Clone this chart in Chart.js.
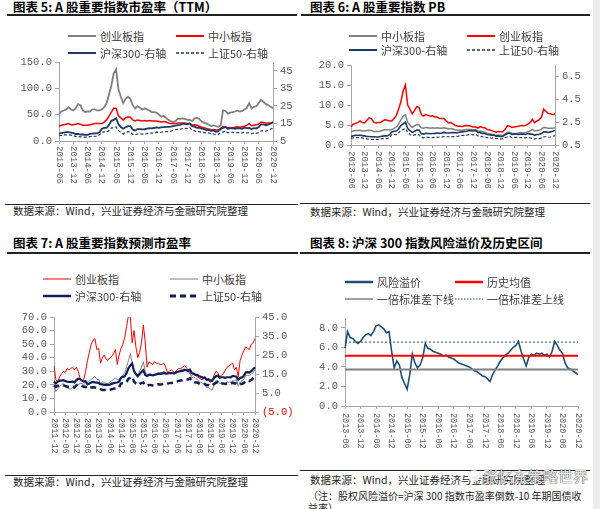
<!DOCTYPE html>
<html>
<head>
<meta charset="utf-8">
<script src="https://cdn.jsdelivr.net/npm/chart.js@4.4.0/dist/chart.umd.min.js"></script>
<style>
  body { margin: 0; background: #fff; }
  #page { position: relative; width: 600px; height: 509px; overflow: hidden; font-family: "Noto Sans CJK SC", sans-serif; color: #262626; }
  .abs { position: absolute; white-space: nowrap; }
  .title { font-size: 12.5px; font-weight: bold; color: #000; line-height: 14px; }
  .src { font-size: 10.5px; color: #262626; line-height: 14px; }
  .note { font-size: 10px; color: #262626; line-height: 14px; }
  .rule { position: absolute; background: #222; }
  .leg { font-size: 11px; color: #404040; line-height: 14px; }
  .sw { line-height: 0; }
  .sw svg { display: block; }
  canvas { position: absolute; }
</style>
</head>
<body>
<div id="page">
  <div class="abs" style="left:593px;top:0;width:7px;height:509px;background:#ececec"></div>

  <div class="abs title" style="left:13px;top:0px">图表 5: A 股重要指数市盈率（TTM）</div>
  <div class="abs title" style="left:310px;top:0px">图表 6: A 股重要指数 PB</div>
  <div class="abs title" style="left:13px;top:236px">图表 7: A 股重要指数预测市盈率</div>
  <div class="abs title" style="left:310px;top:236px">图表 8: 沪深 300 指数风险溢价及历史区间</div>

  <div class="rule" style="left:7px;top:14px;width:290px;height:1.5px"></div>
  <div class="rule" style="left:301px;top:14px;width:289px;height:1.5px"></div>
  <div class="rule" style="left:5px;top:204px;width:293px;height:1px"></div>
  <div class="rule" style="left:300px;top:203px;width:290px;height:1px"></div>
  <div class="rule" style="left:7px;top:252px;width:291px;height:1.5px"></div>
  <div class="rule" style="left:300px;top:252px;width:290px;height:1.5px"></div>
  <div class="rule" style="left:5px;top:475px;width:293px;height:1px"></div>
  <div class="rule" style="left:300px;top:470px;width:290px;height:1px"></div>

  <div class="abs src" style="left:13px;top:204px">数据来源：Wind，兴业证券经济与金融研究院整理</div>
  <div class="abs src" style="left:310px;top:205px">数据来源：Wind，兴业证券经济与金融研究院整理</div>
  <div class="abs src" style="left:13px;top:475px">数据来源：Wind，兴业证券经济与金融研究院整理</div>
  <div class="abs src" style="left:310px;top:473px">数据来源：Wind，兴业证券经济与金融研究院整理</div>
  <div class="abs note" style="left:308px;top:489px">（注：股权风险溢价=沪深 300 指数市盈率倒数-10 年期国债收</div>
  <div class="abs note" style="left:308px;top:501px">益率）</div>

  <canvas id="c5" width="300" height="155" style="left:0;top:50px"></canvas>
  <canvas id="c6" width="300" height="155" style="left:300px;top:50px"></canvas>
  <canvas id="c7" width="300" height="170" style="left:0;top:300px"></canvas>
  <canvas id="c8" width="300" height="165" style="left:300px;top:300px"></canvas>

  <div class="abs" style="left:468px;top:470px;width:12px;height:12px;border-radius:6px;background:rgba(255,255,255,0.85);box-shadow:0 0 1px #555"></div>
  <div class="abs" style="left:483px;top:467px;font-size:15px;line-height:18px;color:rgba(255,255,255,0.9);text-shadow:0 0 1px #444,0 0 1px #444">张忆东策略世界</div>
</div>
<script>
// ---- data ----
function monthLabels(year, month, count) {
    const out = [];
    for (let i = 0; i < count; i++) {
        const m = month - 1 + i;
        out.push((year + Math.floor(m / 12)) + '-' + String(m % 12 + 1).padStart(2, '0'));
    }
    return out;
}
const months13 = monthLabels(2013, 6, 91);   // 2013-06 .. 2020-12
const months11 = monthLabels(2011, 12, 109); // 2011-12 .. 2020-12

// chart 5: PE (TTM)
const chinextPe = [52, 56, 58, 60, 64, 60, 58,
    62, 70, 68, 58, 55, 56, 56, 60, 60, 58, 58, 60,
    64, 72, 88, 105, 128, 136, 98, 84, 72, 80, 84, 80,
    68, 62, 66, 63, 60, 62, 60, 58, 55, 55, 54, 50,
    46, 48, 44, 40, 38, 36, 38, 42, 42, 43, 42, 40,
    40, 38, 43, 44, 42, 37, 35, 33, 31, 28, 30, 28,
    27, 30, 58, 57, 52, 54, 55, 56, 58, 56, 57, 60,
    63, 72, 62, 65, 66, 72, 78, 74, 70, 68, 65, 62];
const smePe = [28, 30, 31, 32, 33, 31, 31,
    32, 33, 32, 30, 30, 30, 31, 32, 33, 33, 33, 33,
    36, 40, 47, 55, 62, 62, 48, 44, 40, 44, 46, 45,
    40, 38, 40, 39, 38, 39, 38, 39, 38, 38, 38, 37,
    36, 37, 36, 34, 33, 33, 33, 34, 34, 34, 34, 33,
    33, 30, 31, 30, 28, 26, 25, 24, 23, 21, 22, 21,
    21, 24, 27, 27, 25, 25, 25, 26, 27, 26, 27, 28,
    30, 33, 29, 30, 31, 32, 36, 35, 34, 34, 34, 35];
const hs300Pe = [9.2, 9.5, 9.8, 10, 10, 9.8, 9.5,
    9, 9, 8.7, 8.7, 8.5, 8.5, 9, 9.2, 9.3, 9.3, 10, 12,
    12.5, 12.5, 14, 16.5, 17, 18, 14.5, 13, 12, 12.8, 13.5, 13.5,
    11.5, 11, 11.8, 11.8, 11.6, 11.7, 12, 12.3, 12.2, 12.4, 12.8, 12.5,
    12.7, 12.9, 13, 13, 13.2, 13.5, 13.8, 14, 14.2, 14.7, 14.7, 14.5,
    15, 13.5, 13.2, 12.5, 12.6, 12, 11.8, 11.2, 11.2, 10.8, 11, 10.2,
    10.6, 11.8, 12.5, 13, 12, 12.2, 12.2, 12, 12.3, 12.2, 12, 12.6,
    12.3, 12.5, 11.8, 12.3, 12.2, 13, 14.5, 14.5, 14, 14.3, 15, 15.8];
const sz50Pe = [8, 8.2, 8.5, 8.5, 8.5, 8.3, 8,
    7.6, 7.5, 7.3, 7.3, 7.2, 7.2, 7.5, 7.6, 7.7, 7.7, 8.5, 10,
    10.2, 10, 11, 12.5, 12.5, 13, 11, 10, 9, 9.8, 10.3, 10.2,
    8.8, 8.6, 9, 9, 8.9, 9, 9.2, 9.5, 9.5, 9.6, 10, 9.8,
    10, 10.2, 10.3, 10.4, 10.6, 11, 11.4, 11.6, 11.7, 12, 12.2, 12,
    12.6, 11.2, 10.8, 10.3, 10.3, 10, 9.8, 9.5, 9.7, 9, 9, 8.6,
    8.8, 9.7, 10.2, 10.6, 9.7, 9.9, 9.9, 9.6, 9.8, 9.7, 9.6, 10,
    9.6, 9.7, 9.2, 9.5, 9.4, 9.8, 10.8, 10.8, 10.6, 11, 11.8, 12.2];
const peLeftTicks = [0, 50, 100, 150];
const peRightTicks = [5, 15, 25, 35, 45];

// chart 6: PB
const smePb = [3.3, 3.5, 3.6, 3.6, 3.7, 3.5, 3.5,
    3.6, 3.7, 3.6, 3.4, 3.4, 3.4, 3.5, 3.7, 3.8, 3.8, 3.8, 3.9,
    4.1, 4.5, 5.2, 6.2, 7.2, 7.6, 5.6, 5.0, 4.4, 4.8, 5.1, 5.0,
    4.3, 4.2, 4.4, 4.3, 4.2, 4.3, 4.2, 4.3, 4.2, 4.2, 4.3, 4.2,
    4.0, 4.1, 4.0, 3.8, 3.7, 3.7, 3.7, 3.8, 3.9, 3.9, 3.9, 3.8,
    3.8, 3.4, 3.5, 3.3, 3.2, 2.9, 2.8, 2.7, 2.6, 2.4, 2.5, 2.4,
    2.4, 2.8, 3.2, 3.1, 2.9, 2.9, 2.9, 3.0, 3.1, 3.0, 3.1, 3.3,
    3.5, 3.9, 3.5, 3.6, 3.7, 3.9, 4.4, 4.3, 4.2, 4.2, 4.2, 4.3];
const chinextPb = [4.6, 5.2, 5.4, 5.6, 6.0, 5.6, 5.5,
    6.2, 6.8, 6.6, 5.7, 5.5, 5.6, 5.6, 6.0, 6.3, 6.2, 6.0, 6.0,
    6.6, 7.4, 9.0, 10.8, 13.5, 15.0, 10.0, 9.0, 7.8, 8.6, 9.6, 9.4,
    7.6, 7.2, 7.6, 7.4, 7.2, 7.3, 7.0, 7.0, 6.6, 6.6, 6.6, 6.0,
    5.5, 5.6, 5.3, 4.9, 4.7, 4.7, 4.6, 4.8, 4.9, 4.8, 4.7, 4.5,
    4.5, 4.2, 4.6, 4.4, 4.3, 3.9, 3.8, 3.6, 3.4, 3.2, 3.4, 3.3,
    3.3, 3.9, 4.8, 4.7, 4.4, 4.5, 4.6, 4.7, 4.9, 4.8, 4.9, 5.2,
    5.6, 6.4, 5.6, 6.0, 6.3, 6.9, 9.0, 8.4, 7.9, 7.8, 7.6, 7.8];
const hs300Pb = [1.25, 1.3, 1.35, 1.35, 1.35, 1.32, 1.3,
    1.25, 1.25, 1.22, 1.22, 1.2, 1.2, 1.25, 1.28, 1.3, 1.3, 1.4, 1.65,
    1.7, 1.72, 1.9, 2.2, 2.35, 2.5, 1.95, 1.75, 1.6, 1.7, 1.8, 1.8,
    1.5, 1.45, 1.52, 1.5, 1.48, 1.5, 1.52, 1.55, 1.52, 1.55, 1.6, 1.55,
    1.55, 1.57, 1.58, 1.57, 1.58, 1.62, 1.65, 1.68, 1.7, 1.75, 1.76, 1.73,
    1.78, 1.6, 1.58, 1.5, 1.5, 1.42, 1.4, 1.35, 1.35, 1.28, 1.3, 1.25,
    1.25, 1.4, 1.5, 1.55, 1.42, 1.45, 1.45, 1.42, 1.45, 1.45, 1.42, 1.5,
    1.45, 1.45, 1.35, 1.42, 1.42, 1.5, 1.65, 1.65, 1.6, 1.65, 1.7, 1.78];
const sz50Pb = [1.1, 1.12, 1.15, 1.15, 1.13, 1.12, 1.08,
    1.03, 1.02, 1.0, 1.0, 0.98, 0.98, 1.03, 1.05, 1.05, 1.06, 1.15, 1.42,
    1.42, 1.4, 1.55, 1.8, 1.85, 1.95, 1.6, 1.42, 1.3, 1.38, 1.42, 1.4,
    1.18, 1.13, 1.18, 1.17, 1.15, 1.15, 1.17, 1.2, 1.18, 1.19, 1.24, 1.22,
    1.22, 1.24, 1.24, 1.24, 1.26, 1.3, 1.33, 1.35, 1.36, 1.4, 1.42, 1.38,
    1.45, 1.3, 1.27, 1.22, 1.22, 1.15, 1.14, 1.1, 1.12, 1.06, 1.07, 1.03,
    1.04, 1.15, 1.2, 1.25, 1.14, 1.17, 1.17, 1.13, 1.15, 1.15, 1.12, 1.18,
    1.12, 1.1, 1.02, 1.07, 1.06, 1.1, 1.22, 1.22, 1.18, 1.2, 1.27, 1.32];
const pbLeftTicks = [0, 5, 10, 15, 20];
const pbRightTicks = [0.5, 2.5, 4.5, 6.5];

// chart 7: forward PE
const chinextFpe = [34,
    24, 22, 26, 28, 30, 29, 32, 31, 32, 33, 31, 33,
    30, 25, 23, 24, 30, 38, 44, 50, 53, 54, 46, 47,
    36, 40, 42, 39, 38, 40, 41, 43, 46, 35, 42, 47,
    50, 55, 63, 71, 70, 51, 60, 48, 40, 44, 51, 64,
    52, 33, 37, 36, 35, 37, 36, 36, 35, 35, 36, 33,
    29, 30, 31, 30, 29, 31, 32, 32, 33, 34, 33, 31,
    28, 27, 28, 27, 26, 25, 24, 24, 25, 23, 23, 22,
    23, 27, 30, 29, 26, 27, 28, 31, 33, 34, 35, 36,
    31, 33, 26, 38, 42, 45, 48, 47, 46, 50, 51, 54];
const smeFpe = [20,
    15, 17, 19, 20, 21, 19, 18, 17, 17, 18, 17, 19,
    20, 21, 21, 20, 22, 22, 23, 24, 25, 26, 24, 24,
    21, 22, 22, 21, 21, 22, 23, 24, 25, 24, 24, 26,
    27, 29, 33, 38, 43, 36, 29, 28, 27, 30, 33, 37,
    30, 27, 28, 28, 27, 28, 28, 29, 29, 29, 30, 29,
    28, 29, 29, 28, 28, 29, 30, 31, 31, 32, 31, 30,
    29, 25, 26, 25, 24, 22, 22, 21, 20, 18, 18, 17,
    16, 20, 23, 23, 21, 21, 21, 21, 22, 22, 22, 23,
    23, 24, 19, 22, 23, 24, 27, 27, 27, 28, 29, 31];
const hs300Fpe = [11,
    10, 11, 11.5, 11.5, 11.8, 11.3, 11, 10.8, 10.8, 11, 10.6, 11.8,
    12.5, 12.3, 11.5, 11, 11.2, 9.6, 10, 10.5, 10.8, 10.6, 10.5, 10.2,
    9.6, 9.5, 9.3, 9.4, 9.3, 9.4, 9.8, 10.2, 10.4, 10.5, 11, 13,
    13.5, 13.8, 15.5, 18, 19.5, 20.5, 16.5, 15, 13.8, 15, 16, 17,
    14.5, 14, 14.5, 14.5, 14.3, 14.5, 14.8, 15.2, 15, 15.2, 15.6, 15.2,
    15.3, 15.5, 15.5, 15.4, 15.5, 16, 16.3, 16.5, 16.6, 17, 17, 16.7,
    17.3, 15.5, 15.3, 14.5, 14.5, 13.8, 13.5, 13, 13.2, 12, 12.3, 11.5,
    11.5, 13, 13.8, 14.2, 13, 13.3, 13.3, 13, 13.3, 13.3, 13.2, 14,
    13.8, 13.6, 12, 13, 13.2, 14, 15.8, 16, 15.8, 16.5, 17.5, 18.5];
const sz50Fpe = [9,
    8.2, 8.8, 8.8, 9, 9, 8.7, 8.4, 8.2, 8.2, 8.3, 8, 9,
    9.5, 9.3, 8.6, 8.3, 8.3, 7.3, 7.6, 7.9, 8, 7.9, 7.8, 7.5,
    7, 6.6, 6.6, 6.7, 6.6, 6.7, 7, 7.3, 7.4, 7.5, 8, 10,
    10.2, 10.2, 11, 12.5, 13, 13.5, 11, 10, 9.2, 9.8, 10.2, 10.5,
    9, 8.8, 9.2, 9.2, 9, 9.1, 9.3, 9.6, 9.5, 9.6, 10, 9.8,
    10, 10.2, 10.3, 10.4, 10.6, 11, 11.4, 11.6, 11.7, 12.1, 12.3, 12.1,
    12.8, 11.3, 11, 10.5, 10.5, 10, 9.8, 9.5, 9.8, 9.1, 9.2, 8.8,
    8.9, 9.8, 10.3, 10.8, 9.8, 10, 10, 9.8, 10, 10, 9.9, 10.4,
    10, 10, 9.3, 9.8, 9.8, 10.3, 11.5, 11.6, 11.4, 11.9, 12.8, 14];
const fpeLeftTicks = [0, 10, 20, 30, 40, 50, 60, 70];
const fpeRightTicks = [-5, 5, 15, 25, 35, 45];

// chart 8: equity risk premium
const riskPremium = [5.9, 7.6, 7.0, 6.9, 6.6, 6.4, 6.6,
    7.0, 7.3, 7.4, 7.2, 7.6, 8.2, 8.3, 8.1, 7.9, 7.5, 7.6, 5.6,
    3.9, 4.6, 4.2, 2.9, 2.3, 1.7, 3.2, 5.3, 4.4, 3.9, 4.2, 4.9,
    6.4, 5.9, 5.8, 5.6, 5.5, 5.4, 5.3, 5.1, 5.2, 5.0, 4.9, 4.8,
    4.6, 4.4, 4.3, 4.2, 4.1, 4.0, 3.8, 3.6, 3.5, 3.3, 3.1, 3.0,
    2.8, 2.5, 3.2, 3.7, 4.1, 4.6, 4.9, 5.2, 5.4, 5.7, 6.0, 6.2,
    6.6, 5.6, 4.8, 4.1, 5.0, 5.3, 5.2, 5.4, 5.3, 5.4, 5.2, 5.3,
    5.0, 5.6, 6.6, 6.2, 5.7, 5.4, 4.4, 3.9, 3.8, 3.6, 3.4, 3.2];
const erpMean = 5.14;
const erpLower = 3.74;
const erpUpper = 6.54;
const erpTicks = [0, 2, 4, 6, 8];

// ---- drawing ----
const TICK = '#595959';
const AXIS = '#a6a6a6';
const NAVY = '#1f3864';
const RED = '#ff0000';
const GRAY = '#808080';

// x labels rotated clockwise, reading top to bottom
const downLabels = {
    id: 'downLabels',
    afterDraw(chart, args, opts) {
        const xs = chart.scales.x;
        const c = chart.ctx;
        c.save();
        c.font = opts.size + 'px "Liberation Mono"';
        c.fillStyle = TICK;
        c.textBaseline = 'middle';
        c.textAlign = 'left';
        xs.ticks.forEach(t => {
            c.save();
            c.translate(xs.getPixelForValue(t.value), xs.top + opts.gap);
            c.rotate(Math.PI / 2);
            c.fillText(chart.data.labels[t.value], 0, 0);
            c.restore();
        });
        c.restore();
    }
};

function timeAxis(height) {
    return {
        type: 'category',
        offset: false,
        afterBuildTicks: scale => { scale.ticks = scale.ticks.filter(t => t.value % 6 === 0); },
        afterFit: scale => { scale.height = height; },
        grid: { drawOnChartArea: false, color: AXIS, tickLength: 3 },
        border: { color: AXIS },
        ticks: { display: false, autoSkip: false }
    };
}

function valueAxis(position, min, max, tickValues, width, format, color) {
    return {
        position: position,
        min: min,
        max: max,
        afterBuildTicks: scale => { scale.ticks = tickValues.map(v => ({ value: v })); },
        afterFit: scale => { scale.width = width; },
        grid: { drawOnChartArea: false, color: AXIS, tickLength: 4 },
        border: { color: AXIS },
        ticks: {
            autoSkip: false,
            padding: 3,
            color: color || TICK,
            font: { family: 'Liberation Mono', size: 10.5 },
            callback: format
        }
    };
}

function line(label, data, color, width, axis, dash) {
    return {
        label: label,
        data: data,
        borderColor: color,
        borderWidth: width,
        borderDash: dash || [],
        pointRadius: 0,
        tension: 0,
        fill: false,
        yAxisID: axis
    };
}

function baseOptions(top, right, labelSize, labelGap) {
    return {
        responsive: false,
        animation: false,
        layout: { padding: { top: top, right: right, left: 0, bottom: 0 } },
        plugins: {
            legend: { display: false },
            tooltip: { enabled: false },
            downLabels: { size: labelSize, gap: labelGap }
        }
    };
}

const fmt1 = v => v.toFixed(1);
const fmt0 = v => String(v);
const fmtParen = v => v < 0 ? '(' + Math.abs(v).toFixed(1) + ')' : v.toFixed(1);

function createPeChart(ctx) {
    const options = baseOptions(12, 0, 9, 5);
    options.scales = {
        x: timeAxis(64),
        y: valueAxis('left', 0, 150, peLeftTicks, 59, fmt1),
        y1: valueAxis('right', 5, 50, peRightTicks, 27, fmt0)
    };
    new Chart(ctx, {
        type: 'line',
        data: {
            labels: months13,
            datasets: [
                line('沪深300-右轴', hs300Pe, NAVY, 1.8, 'y1'),
                line('上证50-右轴', sz50Pe, NAVY, 1.2, 'y1', [3, 2]),
                line('中小板指', smePe, RED, 1.5, 'y'),
                line('创业板指', chinextPe, GRAY, 1.8, 'y')
            ]
        },
        options: options,
        plugins: [downLabels]
    });
}

function createPbChart(ctx) {
    const options = baseOptions(15, 0, 9, 6);
    options.scales = {
        x: timeAxis(60),
        y: valueAxis('left', 0, 20, pbLeftTicks, 51, fmt1),
        y1: valueAxis('right', 0.5, 7.5, pbRightTicks, 45, fmt1)
    };
    new Chart(ctx, {
        type: 'line',
        data: {
            labels: months13,
            datasets: [
                line('沪深300-右轴', hs300Pb, NAVY, 1.6, 'y1'),
                line('上证50-右轴', sz50Pb, NAVY, 1.2, 'y1', [3, 2]),
                line('创业板指', chinextPb, RED, 1.5, 'y'),
                line('中小板指', smePb, GRAY, 1.5, 'y')
            ]
        },
        options: options,
        plugins: [downLabels]
    });
}

function createForwardPeChart(ctx) {
    const options = baseOptions(17, 0, 8.5, 6);
    options.scales = {
        x: timeAxis(58),
        y: valueAxis('left', 0, 70, fpeLeftTicks, 54, fmt1),
        y1: valueAxis('right', -5, 45, fpeRightTicks, 45, fmtParen,
            c => (c.tick && c.tick.value < 0) ? RED : TICK)
    };
    new Chart(ctx, {
        type: 'line',
        data: {
            labels: months11,
            datasets: [
                line('沪深300-右轴', hs300Fpe, '#0f1f5a', 2.2, 'y1'),
                line('上证50-右轴', sz50Fpe, '#0f1f5a', 2.5, 'y1', [6, 4]),
                line('中小板指', smeFpe, GRAY, 1, 'y'),
                line('创业板指', chinextFpe, RED, 1, 'y')
            ]
        },
        options: options,
        plugins: [downLabels]
    });
}

function createRiskPremiumChart(ctx) {
    const first = months13[0];
    const last = months13[months13.length - 1];
    const options = baseOptions(18, 22, 8.5, 7);
    options.scales = {
        x: timeAxis(59),
        y: valueAxis('left', 0, 9, erpTicks, 45, fmt1)
    };
    new Chart(ctx, {
        type: 'line',
        data: {
            labels: months13,
            datasets: [
                line('历史均值', [{ x: first, y: erpMean }, { x: last, y: erpMean }], RED, 2, 'y'),
                line('一倍标准差下线', [{ x: first, y: erpLower }, { x: last, y: erpLower }], GRAY, 2, 'y'),
                line('风险溢价', riskPremium, '#1f4e79', 1.6, 'y'),
                line('一倍标准差上线', [{ x: first, y: erpUpper }, { x: last, y: erpUpper }], '#1f4e79', 1, 'y', [2, 2])
            ]
        },
        options: options,
        plugins: [downLabels]
    });
}

// legends as html
function legend(items) {
    const page = document.getElementById('page');
    items.forEach(it => {
        const [x, y, text, color, width, dash] = it;
        const sw = document.createElement('div');
        sw.className = 'abs sw';
        sw.style.left = x + 'px';
        sw.style.top = (y - 4) + 'px';
        sw.innerHTML = '<svg width="28" height="8"><line x1="0" y1="4" x2="28" y2="4" stroke="' + color +
            '" stroke-width="' + width + '" stroke-dasharray="' + (dash || 'none') + '"/></svg>';
        page.appendChild(sw);
        const t = document.createElement('div');
        t.className = 'abs leg';
        t.style.left = (x + 32) + 'px';
        t.style.top = (y - 7) + 'px';
        t.textContent = text;
        page.appendChild(t);
    });
}

legend([
    [68, 36, '创业板指', GRAY, 2],
    [176, 36, '中小板指', RED, 2],
    [68, 53, '沪深300-右轴', NAVY, 2],
    [176, 53, '上证50-右轴', NAVY, 1.5, '3,2']
]);
legend([
    [349, 36, '中小板指', GRAY, 2],
    [467, 36, '创业板指', RED, 2],
    [349, 50, '沪深300-右轴', NAVY, 2],
    [467, 50, '上证50-右轴', NAVY, 1.5, '3,2']
]);
legend([
    [43, 279, '创业板指', RED, 1],
    [170, 279, '中小板指', GRAY, 1],
    [43, 296, '沪深300-右轴', '#0f1f5a', 2.5],
    [170, 296, '上证50-右轴', '#0f1f5a', 3, '6,4']
]);
legend([
    [345, 282, '风险溢价', '#1f4e79', 2.5],
    [455, 282, '历史均值', RED, 2.5],
    [345, 299, '一倍标准差下线', GRAY, 1.5],
    [455, 299, '一倍标准差上线', '#1f4e79', 1, '1.5,1.5']
]);

createPeChart(document.getElementById('c5'));
createPbChart(document.getElementById('c6'));
createForwardPeChart(document.getElementById('c7'));
createRiskPremiumChart(document.getElementById('c8'));
</script>
</body>
</html>
